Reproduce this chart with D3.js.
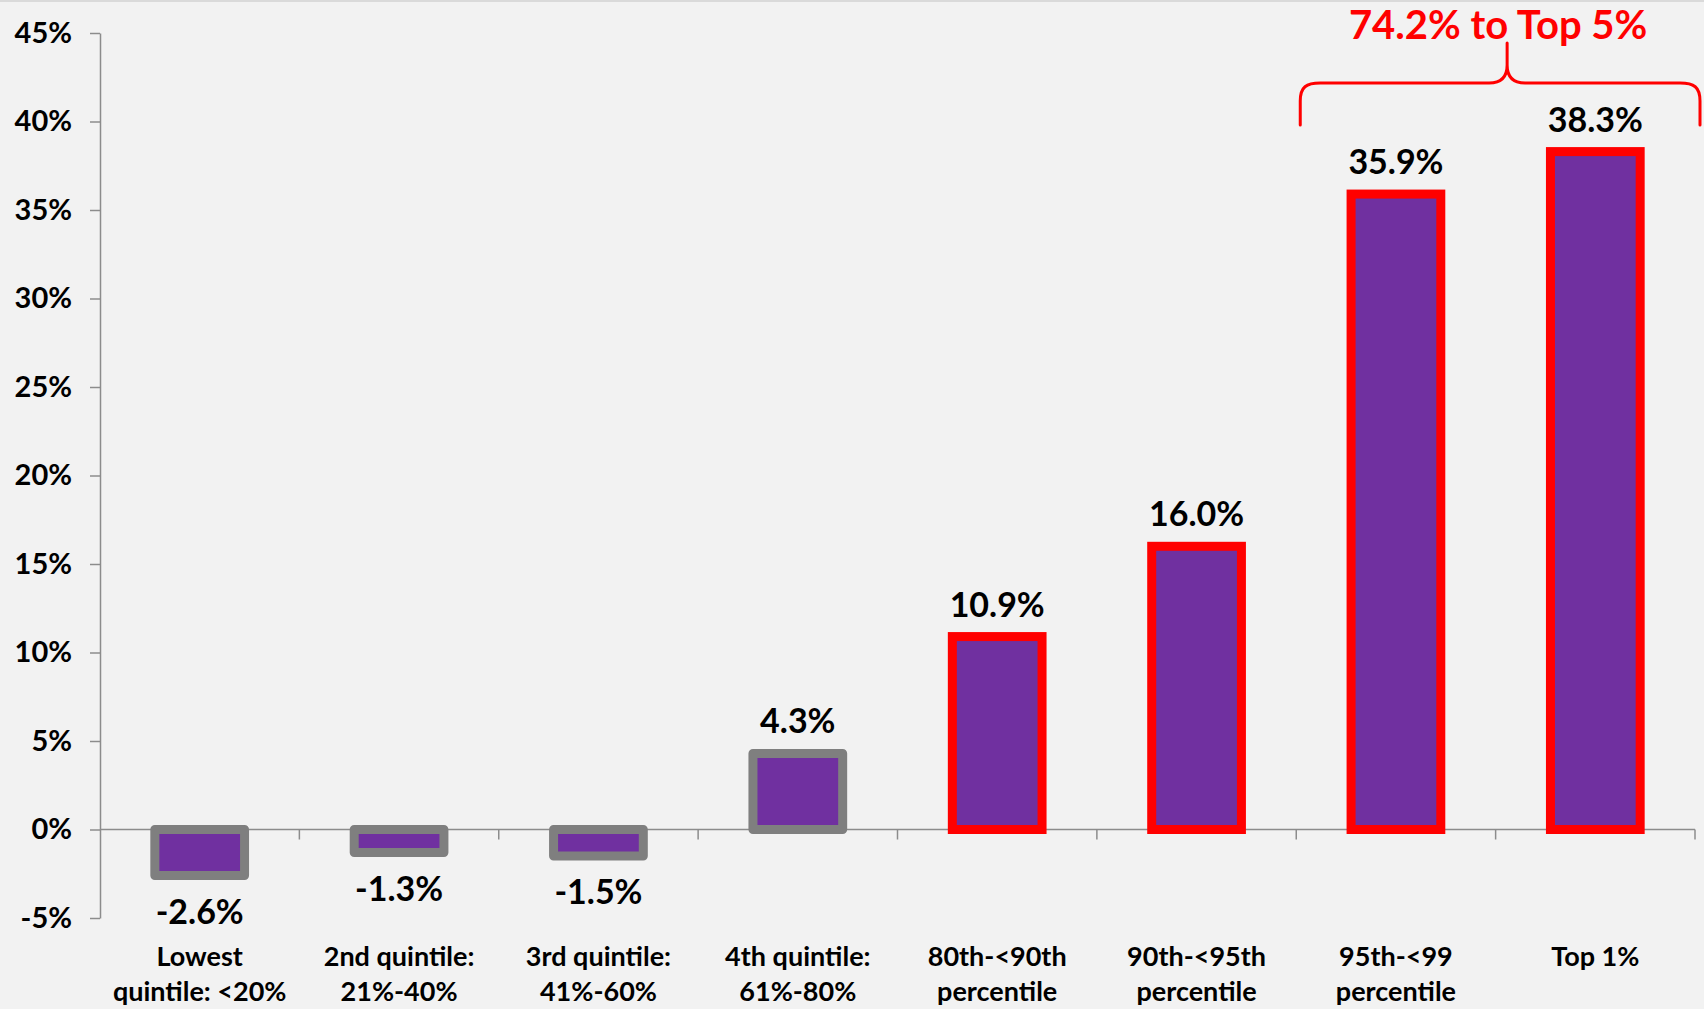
<!DOCTYPE html>
<html>
<head>
<meta charset="utf-8">
<script src="https://cdn.jsdelivr.net/npm/d3@7"></script>
<style>
  html, body { margin: 0; padding: 0; background: #F2F2F2; }
  svg { display: block; }
  text { font-family: Lato, "Noto Sans", sans-serif; font-weight: 700; }
</style>
</head>
<body>
<svg id="chart" width="1704" height="1009"></svg>
<script>
// ---- data ----
const categories = [
  ["Lowest", "quintile: <20%"],
  ["2nd quintile:", "21%-40%"],
  ["3rd quintile:", "41%-60%"],
  ["4th quintile:", "61%-80%"],
  ["80th-<90th", "percentile"],
  ["90th-<95th", "percentile"],
  ["95th-<99", "percentile"],
  ["Top 1%"]
];
const values = [-2.6, -1.3, -1.5, 4.3, 10.9, 16.0, 35.9, 38.3];
const groups = ["rest", "rest", "rest", "rest", "top", "top", "top", "top"];
const yTicks = [-5, 0, 5, 10, 15, 20, 25, 30, 35, 40, 45];
const annotation = "74.2% to Top 5%";
const bracedCategories = [6, 7];

// ---- layout ----
const W = 1704, H = 1009;
const mLeft = 100, mRight = 1695, mTop = 33, mBottom = 918;
const svg = d3.select("#chart");

svg.append("rect").attr("x", 0).attr("y", 0).attr("width", W).attr("height", H).attr("fill", "#F2F2F2");
svg.append("rect").attr("x", 0).attr("y", 0).attr("width", W).attr("height", 2).attr("fill", "#DADADA");

const keys = categories.map(c => c.join(" "));
const x = d3.scaleBand().domain(keys).range([mLeft, mRight]).paddingInner(0.55).paddingOuter(0.275);
const y = d3.scaleLinear().domain([-5, 45]).range([mBottom, mTop]);

const axisColor = "#8C8C8C";

// y axis
const yAxis = d3.axisLeft(y).tickValues(yTicks).tickSize(10).tickSizeOuter(0).tickPadding(18)
  .tickFormat(d => d + "%");
const gy = svg.append("g").attr("transform", `translate(${mLeft},0)`).call(yAxis);
gy.select(".domain").attr("stroke", axisColor).attr("stroke-width", 1.5);
gy.selectAll(".tick line").attr("stroke", axisColor).attr("stroke-width", 1.5);
gy.selectAll(".tick text").attr("fill", "#000").style("font-size", "29px")
  .style("font-family", "Lato, 'Noto Sans', sans-serif").style("font-weight", 700);

// x axis at zero
const step = x.step();
const boundaries = d3.range(keys.length + 1).map(i => mLeft + i * step);
svg.append("line").attr("x1", mLeft).attr("x2", mRight).attr("y1", y(0)).attr("y2", y(0))
  .attr("stroke", axisColor).attr("stroke-width", 1.5);
svg.selectAll(".xtick").data(boundaries.slice(1)).join("line").attr("class", "xtick")
  .attr("x1", d => d).attr("x2", d => d).attr("y1", y(0)).attr("y2", y(0) + 10)
  .attr("stroke", axisColor).attr("stroke-width", 1.5);

// bars
const data = values.map((v, i) => ({ key: keys[i], label: categories[i], v, g: groups[i] }));
svg.selectAll(".bar").data(data).join("rect").attr("class", "bar")
  .attr("x", d => x(d.key))
  .attr("width", x.bandwidth())
  .attr("y", d => y(Math.max(0, d.v)))
  .attr("height", d => Math.abs(y(d.v) - y(0)))
  .attr("fill", "#7030A0")
  .attr("stroke", d => d.g === "top" ? "#FF0000" : "#7F7F7F")
  .attr("stroke-width", 9)
  .attr("stroke-linejoin", d => d.g === "top" ? "miter" : "round");

// value labels
svg.selectAll(".vlabel").data(data).join("text").attr("class", "vlabel")
  .attr("x", d => x(d.key) + x.bandwidth() / 2)
  .attr("y", d => d.v >= 0 ? y(d.v) - 20 : y(d.v) + 48)
  .attr("text-anchor", "middle").attr("fill", "#000").style("font-size", "34px")
  .text(d => d.v.toFixed(1) + "%");

// category labels
const cat = svg.selectAll(".clabel").data(data).join("text").attr("class", "clabel")
  .attr("x", d => x(d.key) + x.bandwidth() / 2)
  .attr("y", 966)
  .attr("text-anchor", "middle").attr("fill", "#000").style("font-size", "27px");
cat.selectAll("tspan").data(d => d.label.map(t => ({ t, cx: x(d.key) + x.bandwidth() / 2 }))).join("tspan")
  .attr("x", d => d.cx).attr("dy", (d, i) => i === 0 ? 0 : 35).text(d => d.t);

// brace annotation
const bl = boundaries[bracedCategories[0]] + 4;
const br = boundaries[bracedCategories[1] + 1] + 5;
const mid = (bl + br) / 2 + 7;
const yb = 125, yh = 83, yt = 43;
const p = d3.path();
p.moveTo(bl, yb);
p.lineTo(bl, yh + 18);
p.bezierCurveTo(bl, yh + 4, bl + 6, yh, bl + 20, yh);
p.lineTo(mid - 18, yh);
p.bezierCurveTo(mid - 6, yh, mid, yh - 6, mid, yh - 18);
p.lineTo(mid, yt);
p.moveTo(mid, yh - 18);
p.bezierCurveTo(mid, yh - 6, mid + 6, yh, mid + 18, yh);
p.lineTo(br - 20, yh);
p.bezierCurveTo(br - 6, yh, br, yh + 4, br, yh + 18);
p.lineTo(br, yb);
svg.append("path").attr("d", p.toString()).attr("fill", "none")
  .attr("stroke", "#FF0000").attr("stroke-width", 3).attr("stroke-linecap", "round");

svg.append("text").attr("x", mid - 9).attr("y", 39).attr("text-anchor", "middle")
  .attr("fill", "#FF0000").style("font-size", "40px").text(annotation);
</script>
</body>
</html>
